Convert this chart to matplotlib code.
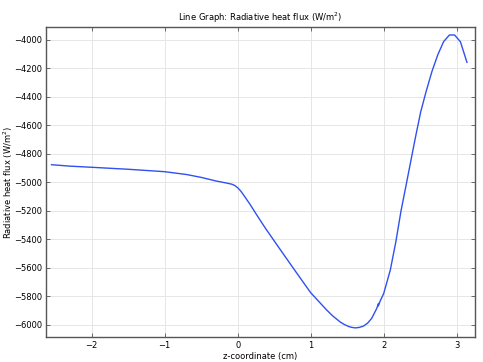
import matplotlib
matplotlib.use("Agg")
import matplotlib.pyplot as plt

# z-coordinate (cm) and radiative heat flux (W/m^2)
z = [-2.55, -2.3, -2.0, -1.5, -1.0, -0.7, -0.5, -0.3, -0.15, -0.08, -0.04, 0.0,
     0.04, 0.08, 0.12, 0.17, 0.25, 0.374, 0.58, 0.81, 1.0, 1.22, 1.30, 1.40, 1.46,
     1.52, 1.56, 1.61, 1.66, 1.72, 1.78, 1.835, 1.90, 1.93, 1.925, 1.95, 2.0, 2.09,
     2.165, 2.237, 2.314, 2.39, 2.44, 2.507, 2.58, 2.66, 2.74, 2.82, 2.90, 2.97,
     3.05, 3.14]
flux = [-4876, -4886, -4894, -4908, -4925, -4945, -4965, -4990, -5005, -5013, -5022, -5038,
        -5060, -5088, -5118, -5155, -5220, -5318, -5470, -5638, -5775, -5897, -5937, -5979, -5998,
        -6012, -6018, -6022, -6019, -6010, -5988, -5955, -5890, -5850, -5868, -5835, -5780, -5616,
        -5420, -5200, -5000, -4800, -4670, -4504, -4363, -4222, -4105, -4012, -3965, -3965,
        -4012, -4157]

fs = 6.0
fig = plt.figure(figsize=(4.83, 3.62), dpi=100)
ax = fig.add_axes([0.0952, 0.069, 0.8882, 0.8564])

ax.plot(z, flux, color="#3050f0", lw=1.0)

ax.set_xlim(-2.626, 3.25)
ax.set_ylim(-6086, -3909)
ax.set_xticks([-2, -1, 0, 1, 2, 3])
ax.set_yticks(range(-6000, -3999, 200))
ax.grid(True, color="#e6e6e6", lw=0.7)
ax.set_axisbelow(True)
ax.tick_params(direction="in", top=True, right=True, length=3, width=0.6,
               labelsize=fs, color="#555555", pad=3)
for s in ax.spines.values():
    s.set_color("#555555")
    s.set_linewidth(1.0)

ax.set_title("Line Graph: Radiative heat flux (W/m$^2$)", fontsize=fs, pad=4)
ax.set_xlabel("z-coordinate (cm)", fontsize=fs, labelpad=1)
ax.set_ylabel("Radiative heat flux (W/m$^2$)", fontsize=fs)
ax.yaxis.set_label_coords(-0.072, 0.5)

fig.savefig("out.png", dpi=100)
